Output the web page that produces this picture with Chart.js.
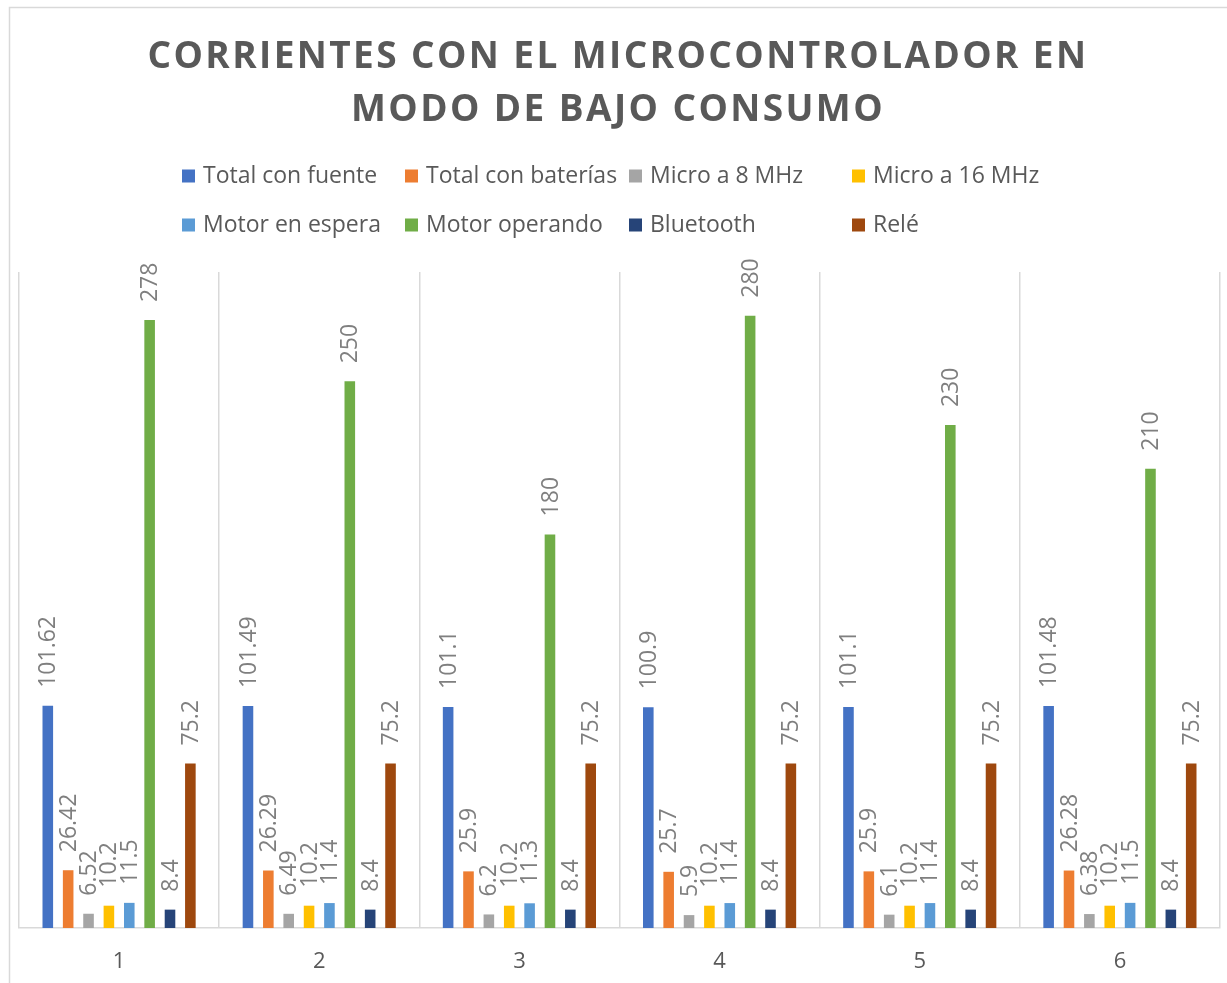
<!DOCTYPE html>
<html>
<head>
<meta charset="utf-8">
<script src="https://cdn.jsdelivr.net/npm/chart.js@4/dist/chart.umd.min.js"></script>
<style>
  html, body { margin: 0; padding: 0; background: #ffffff; }
  #wrap { width: 1227px; height: 983px; }
</style>
</head>
<body>
<div id="wrap"><canvas id="chart" width="1227" height="983"></canvas></div>
<script>
// Measurement rounds
const categories = ['1', '2', '3', '4', '5', '6'];

// Currents per configuration (mA)
const totalConFuente    = [101.62, 101.49, 101.1, 100.9, 101.1, 101.48];
const totalConBaterias  = [26.42, 26.29, 25.9, 25.7, 25.9, 26.28];
const microA8MHz        = [6.52, 6.49, 6.2, 5.9, 6.1, 6.38];
const microA16MHz       = [10.2, 10.2, 10.2, 10.2, 10.2, 10.2];
const motorEnEspera     = [11.5, 11.4, 11.3, 11.4, 11.4, 11.5];
const motorOperando     = [278, 250, 180, 280, 230, 210];
const bluetooth         = [8.4, 8.4, 8.4, 8.4, 8.4, 8.4];
const rele              = [75.2, 75.2, 75.2, 75.2, 75.2, 75.2];

const seriesNames = ['Total con fuente', 'Total con baterías', 'Micro a 8 MHz', 'Micro a 16 MHz',
                     'Motor en espera', 'Motor operando', 'Bluetooth', 'Relé'];
const seriesData = [totalConFuente, totalConBaterias, microA8MHz, microA16MHz,
                    motorEnEspera, motorOperando, bluetooth, rele];
const seriesColors = ['#4472C4', '#ED7D31', '#A5A5A5', '#FFC000',
                      '#5B9BD5', '#70AD47', '#264478', '#9E480E'];

const titleLines = ['CORRIENTES CON EL MICROCONTROLADOR EN', 'MODO DE BAJO CONSUMO'];

const FONT = '"Open Sans", "DejaVu Sans", sans-serif';

// Chart frame, title and two-row legend laid out in fixed columns
const framePlugin = {
  id: 'frame',
  beforeDraw(chart) {
    const ctx = chart.ctx;
    ctx.save();
    ctx.fillStyle = '#ffffff';
    ctx.fillRect(0, 0, chart.width, chart.height);
    ctx.strokeStyle = '#d9d9d9';
    ctx.lineWidth = 1.5;
    ctx.strokeRect(9.5, 7.5, chart.width + 20, chart.height + 20);
    ctx.restore();
  },
  afterDraw(chart) {
    const ctx = chart.ctx;
    ctx.save();
    // title
    ctx.fillStyle = '#595959';
    ctx.font = 'bold 37px ' + FONT;
    ctx.letterSpacing = '2.4px';
    ctx.textAlign = 'center';
    ctx.textBaseline = 'middle';
    const titleY = [57, 110];
    titleLines.forEach((line, i) => ctx.fillText(line, 618, titleY[i]));
    ctx.letterSpacing = '0px';

    // legend
    const colX = [182, 405, 629, 852];
    const rowY = [176, 225];
    ctx.font = '23px ' + FONT;
    ctx.textAlign = 'left';
    ctx.textBaseline = 'middle';
    seriesNames.forEach((name, i) => {
      const x = colX[i % 4];
      const y = rowY[Math.floor(i / 4)];
      ctx.fillStyle = seriesColors[i];
      ctx.fillRect(x, y - 6.5, 13, 13);
      ctx.fillStyle = '#595959';
      ctx.fillText(name, x + 21, y);
    });
    ctx.restore();
  }
};

// Rotated value labels above each bar
const valueLabelPlugin = {
  id: 'valueLabels',
  afterDatasetsDraw(chart) {
    const ctx = chart.ctx;
    ctx.save();
    ctx.font = '23px ' + FONT;
    ctx.fillStyle = '#7f7f7f';
    ctx.textAlign = 'left';
    ctx.textBaseline = 'middle';
    chart.data.datasets.forEach((ds, di) => {
      const meta = chart.getDatasetMeta(di);
      meta.data.forEach((bar, i) => {
        ctx.save();
        ctx.translate(bar.x + 1, bar.y - 18);
        ctx.rotate(-Math.PI / 2);
        ctx.fillText(String(ds.data[i]), 0, 0);
        ctx.restore();
      });
    });
    ctx.restore();
  }
};

new Chart(document.getElementById('chart'), {
  type: 'bar',
  data: {
    labels: categories,
    datasets: seriesNames.map((name, i) => ({
      label: name,
      data: seriesData[i],
      backgroundColor: seriesColors[i],
      borderWidth: 0,
      categoryPercentage: 0.814,
      barPercentage: 0.52
    }))
  },
  options: {
    responsive: false,
    animation: false,
    devicePixelRatio: 1,
    layout: { padding: { top: 272, left: 19, right: 7, bottom: 0 } },
    plugins: {
      legend: { display: false },
      title: { display: false },
      tooltip: { enabled: false }
    },
    scales: {
      x: {
        offset: true,
        afterFit(scale) { scale.height = 55; },
        grid: {
          offset: true,
          color: '#d9d9d9',
          lineWidth: 1.5,
          drawTicks: false
        },
        border: { color: '#d9d9d9', width: 1.5 },
        ticks: {
          color: '#595959',
          font: { family: FONT, size: 22 },
          padding: 21
        }
      },
      y: {
        display: false,
        min: 0,
        max: 300
      }
    }
  },
  plugins: [framePlugin, valueLabelPlugin]
});
</script>
</body>
</html>
